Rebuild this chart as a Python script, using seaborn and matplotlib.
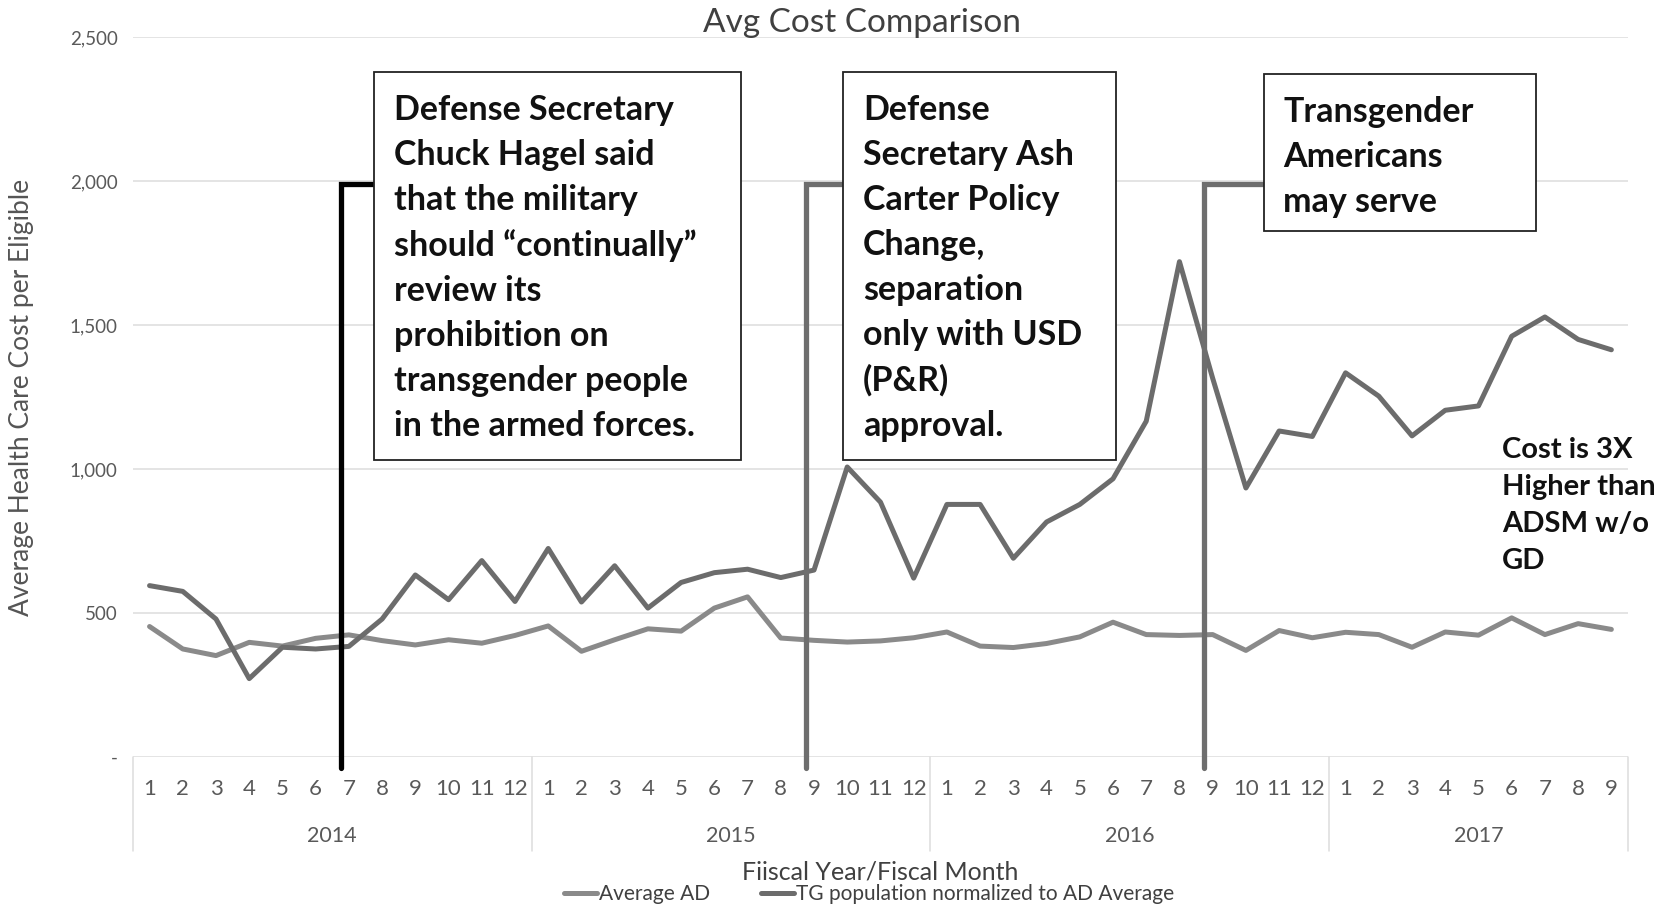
import numpy as np
import pandas as pd
import matplotlib
matplotlib.use("Agg")
import matplotlib.pyplot as plt
from matplotlib.patches import Rectangle
import seaborn as sns

# data (fiscal months, 2014-01 .. 2017-09)
years = ["2014", "2015", "2016", "2017"]
months_per_year = [12, 12, 12, 9]

avg_ad = [453, 375, 352, 398, 385, 412, 424, 404, 389, 407, 395, 422,
          455, 367, 407, 445, 437, 517, 556, 413, 405, 399, 403, 414,
          434, 385, 380, 394, 417, 468, 425, 422, 425, 370, 439, 414,
          433, 425, 381, 434, 423, 483, 425, 463, 443]

tg_norm = [595, 575, 479, 272, 381, 375, 384, 479, 632, 546, 682, 540,
           724, 538, 664, 517, 606, 640, 652, 623, 649, 1007, 885, 621,
           877, 877, 690, 816, 877, 966, 1166, 1720, 1315, 934, 1132, 1113,
           1334, 1253, 1115, 1204, 1219, 1461, 1528, 1450, 1414]

y_ticks = [0, 500, 1000, 1500, 2000, 2500]
y_tick_labels = ["-", "500", "1,000", "1,500", "2,000", "2,500"]

series_names = ["Average AD", "TG population normalized to AD Average"]
series_colors = ["#8a8a8a", "#6c6c6c"]

events = [  # (year, month, text, line colour)
    ("2014", 7, "Defense Secretary\nChuck Hagel said\nthat the military\n"
                "should \u201ccontinually\u201d\nreview its\nprohibition on\n"
                "transgender people\nin the armed forces.", "#000000"),
    ("2015", 9, "Defense\nSecretary Ash\nCarter Policy\nChange,\nseparation\n"
                "only with USD\n(P&R)\napproval.", "#6e6e6e"),
    ("2016", 9, "Transgender\nAmericans\nmay serve", "#6e6e6e"),
]
note_text = "Cost is 3X\nHigher than\nADSM w/o\nGD"

# ---- build long table
month_labels, year_of = [], []
for y, n in zip(years, months_per_year):
    month_labels += [str(m) for m in range(1, n + 1)]
    year_of += [y] * n
pos = np.arange(len(month_labels))
df = pd.DataFrame({
    "pos": np.concatenate([pos, pos]),
    "cost": avg_ad + tg_norm,
    "series": [series_names[0]] * len(pos) + [series_names[1]] * len(pos),
})

sns.set_style("white")
plt.rcParams["font.family"] = ["Lato", "DejaVu Sans"]

fig = plt.figure(figsize=(16.68, 9.06), dpi=100)
ax = fig.add_axes([0.0797, 0.1645, 0.8963, 0.7946])

sns.lineplot(data=df, x="pos", y="cost", hue="series", hue_order=series_names,
             palette=series_colors, linewidth=3.6, ax=ax, legend=False)

ax.set_xlim(-0.5, len(pos) - 0.5)
ax.set_ylim(0, 2500)
ax.set_yticks(y_ticks)
ax.set_yticklabels(y_tick_labels)
ax.set_xticks(pos)
ax.set_xticklabels(month_labels)
ax.tick_params(axis="both", length=0, colors="#595959")
ax.tick_params(axis="x", pad=16, labelsize=16)
ax.tick_params(axis="y", pad=11, labelsize=13.5)
for v in y_ticks:
    ax.axhline(v, color="#dcdcdc", lw=1.1, zorder=0)
for s in ax.spines.values():
    s.set_visible(False)
ax.set_xlabel("")
ax.set_ylabel("Average Health Care Cost per Eligible", fontsize=19,
              color="#555555", labelpad=26)

# two-level category axis: year row + separators
trans = matplotlib.transforms.blended_transform_factory(ax.transData, ax.transAxes)
start = 0
for y, n in zip(years, months_per_year):
    ax.text(start + (n - 1) / 2, -0.11, y, transform=trans, ha="center",
            va="center", fontsize=15.5, color="#595959")
    start += n
edges = np.concatenate([[0], np.cumsum(months_per_year)]) - 0.5
for e in edges:
    ax.plot([e, e], [0, -0.13], transform=trans, color="#dcdcdc", lw=1.1,
            clip_on=False)

fig.text(0.517, 0.975, "Avg Cost Comparison", ha="center", va="center",
         fontsize=24, color="#404040")
fig.text(0.5276, 0.038, "Fiiscal Year/Fiscal Month", ha="center", va="center",
         fontsize=18, color="#404040")

# event lines and call-out boxes
box_spans = [(6.76, 17.8, 1031, 2378), (20.88, 29.08, 1031, 2378),
             (33.53, 41.72, 1826, 2370)]
for (yr, mo, txt, col), (x0, x1, y0, y1) in zip(events, box_spans):
    xi = month_labels.index(str(mo), year_of.index(yr)) - 0.25
    ax.plot([xi, xi, x0], [-40, 1990, 1990], color=col, lw=3.8,
            solid_joinstyle="miter", clip_on=False, zorder=3)
    ax.add_patch(Rectangle((x0, y0), x1 - x0, y1 - y0, facecolor="white",
                           edgecolor="#222222", lw=1.3, zorder=4))
    ax.text(x0 + 0.6, y1 - 75, txt, ha="left", va="top", fontsize=24.5,
            fontweight="bold", color="#111111", linespacing=1.5, zorder=5)

ax.text(40.7, 1110, note_text, ha="left", va="top", fontsize=21,
        fontweight="bold", color="#111111", linespacing=1.52)

handles = [plt.Line2D([], [], color=c, lw=3.6) for c in series_colors]
fig.legend(handles, series_names, loc="center", bbox_to_anchor=(0.521, 0.013),
           ncol=2, frameon=False, fontsize=15, handlelength=1.6,
           handletextpad=0.1, columnspacing=2.4, labelcolor="#404040")

fig.savefig("out.png", dpi=100)
